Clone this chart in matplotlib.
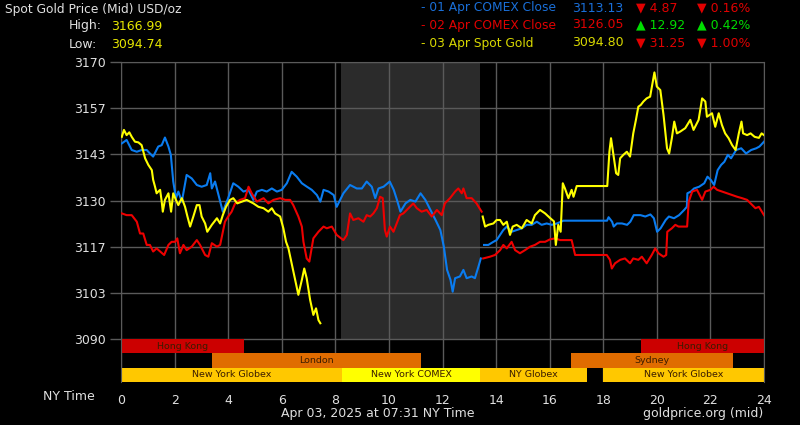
import numpy as np
import matplotlib
matplotlib.use("Agg")
import matplotlib.pyplot as plt

# --------------------------------------------------
# data (hours in NY time, USD/oz)
# NaN marks the break between sessions
# --------------------------------------------------
nan = np.nan

blue_hours = [0.03, 0.21, 0.4, 0.59, 0.77, 0.96, 1.08, 1.2, 1.39, 1.52, 1.64, 1.77, 1.86, 1.95,
              2.05, 2.14, 2.27, 2.45, 2.64, 2.83, 3.01, 3.2, 3.33, 3.39, 3.51, 3.64, 3.8, 4.0,
              4.19, 4.38, 4.57, 4.76, 4.94, 5.07, 5.26, 5.44, 5.63, 5.82, 6.0, 6.19, 6.37, 6.56,
              6.75, 6.94, 7.12, 7.31, 7.44, 7.56, 7.75, 7.94, 8.05, 8.3, 8.55, 8.8, 8.99, 9.17,
              9.36, 9.49, 9.61, 9.8, 10.03, 10.18, 10.3, 10.43, 10.62, 10.8, 10.99, 11.18, 11.36,
              11.55, 11.74, 11.92, 12.05, 12.17, 12.3, 12.38, 12.47, 12.65, 12.78, 12.9, 13.09,
              13.21, 13.34, 13.43, 13.49, 13.55, 13.71, 13.9, 14.02, 14.15, 14.27, 14.4, 14.58,
              14.77, 14.96, 15.14, 15.33, 15.52, 15.7, 15.89, 16.08, 16.27, 16.51, 16.76, 17.1,
              17.27, 18.14, 18.2, 18.33, 18.39, 18.51, 18.7, 18.89, 19.01, 19.14, 19.39, 19.57,
              19.76, 19.89, 20.01, 20.14, 20.33, 20.45, 20.64, 20.83, 21.02, 21.12, 21.14, 21.27,
              21.39, 21.58, 21.77, 21.89, 22.02, 22.14, 22.27, 22.4, 22.52, 22.65, 22.77, 22.96,
              23.15, 23.33, 23.52, 23.71, 23.83, 24.0]
blue_price = [3146.5, 3147.5, 3144.6, 3144.1, 3144.6, 3144.6, 3143.6, 3142.7, 3145.6, 3146.0,
              3148.2, 3145.6, 3143.2, 3135.5, 3130.7, 3132.6, 3129.7, 3137.4, 3136.4, 3134.5,
              3134.0, 3134.5, 3137.9, 3133.5, 3135.5, 3131.6, 3126.8, 3130.7, 3135.0, 3134.0,
              3132.6, 3133.1, 3130.2, 3132.6, 3133.1, 3132.6, 3133.5, 3132.6, 3133.1, 3135.0,
              3138.3, 3136.9, 3135.0, 3134.0, 3133.1, 3131.6, 3129.7, 3133.1, 3132.6, 3131.6,
              3128.2, 3132.1, 3134.5, 3133.5, 3133.5, 3135.5, 3134.0, 3130.7, 3133.5, 3134.0,
              3135.5, 3133.1, 3130.2, 3126.8, 3129.2, 3130.2, 3129.7, 3132.1, 3130.2, 3127.3,
              3124.4, 3121.5, 3116.7, 3110.0, 3107.1, 3103.7, 3107.6, 3108.1, 3110.0, 3107.6,
              3108.1, 3107.6, 3110.9, 3113.3, nan, 3117.2, 3117.2, 3118.1, 3118.6, 3120.1,
              3121.5, 3122.5, 3121.0, 3121.5, 3122.0, 3123.0, 3123.0, 3123.9, 3123.0, 3123.4,
              3123.0, 3123.4, 3124.2, 3124.2, 3124.2, 3124.2, 3124.2, 3125.2, 3123.9, 3122.5,
              3123.4, 3123.4, 3123.0, 3123.9, 3125.8, 3125.8, 3125.4, 3126.0, 3124.9, 3121.0,
              3122.0, 3124.4, 3125.4, 3124.9, 3125.8, 3127.3, 3128.2, 3132.1, 3132.6, 3133.5,
              3134.0, 3135.0, 3136.9, 3135.9, 3134.5, 3138.8, 3140.3, 3141.2, 3143.2, 3142.2,
              3144.6, 3145.1, 3143.6, 3144.6, 3145.1, 3145.6, 3147.0]

red_hours = [0.03, 0.21, 0.4, 0.59, 0.71, 0.83, 0.96, 1.08, 1.2, 1.33, 1.46, 1.61, 1.77, 1.89,
             2.02, 2.1, 2.2, 2.33, 2.45, 2.64, 2.83, 2.95, 3.14, 3.26, 3.39, 3.58, 3.7, 3.88, 4.0,
             4.13, 4.26, 4.44, 4.63, 4.76, 4.88, 5.07, 5.32, 5.5, 5.69, 5.94, 6.13, 6.31, 6.43,
             6.62, 6.75, 6.81, 6.93, 7.03, 7.18, 7.37, 7.56, 7.68, 7.87, 8.05, 8.3, 8.43, 8.55,
             8.67, 8.86, 9.05, 9.17, 9.3, 9.42, 9.55, 9.67, 9.77, 9.85, 9.92, 10.04, 10.17, 10.29,
             10.41, 10.54, 10.73, 10.91, 11.04, 11.22, 11.41, 11.6, 11.79, 11.97, 12.09, 12.28,
             12.47, 12.59, 12.72, 12.78, 12.9, 13.09, 13.27, 13.46, 13.49, 13.52, 13.77, 13.96,
             14.15, 14.27, 14.4, 14.58, 14.71, 14.89, 15.08, 15.27, 15.45, 15.64, 15.83, 16.01,
             16.2, 16.39, 16.51, 16.82, 16.95, 17.26, 18.13, 18.25, 18.32, 18.44, 18.63, 18.81,
             19.0, 19.12, 19.31, 19.44, 19.62, 19.81, 19.94, 20.06, 20.25, 20.35, 20.39, 20.56,
             20.69, 20.81, 21.13, 21.19, 21.32, 21.5, 21.69, 21.81, 22.0, 22.12, 22.25, 22.44,
             22.62, 22.81, 23.0, 23.18, 23.37, 23.5, 23.68, 23.81, 24.0]
red_price = [3126.3, 3125.8, 3125.8, 3123.9, 3120.5, 3120.5, 3117.2, 3117.2, 3115.3, 3116.2,
             3115.3, 3114.3, 3117.2, 3118.1, 3118.1, 3119.1, 3114.8, 3117.2, 3115.7, 3116.7,
             3118.6, 3117.2, 3114.3, 3113.8, 3117.7, 3116.7, 3117.2, 3123.9, 3125.4, 3126.8,
             3129.2, 3130.2, 3130.7, 3134.0, 3132.1, 3129.7, 3130.7, 3129.2, 3130.2, 3130.7,
             3130.2, 3130.2, 3128.7, 3125.4, 3122.5, 3118.1, 3113.3, 3112.4, 3119.1, 3121.0,
             3122.5, 3122.0, 3122.5, 3120.1, 3118.6, 3120.1, 3126.3, 3124.4, 3124.9, 3123.9,
             3125.8, 3125.4, 3126.3, 3127.8, 3131.1, 3130.7, 3121.5, 3119.6, 3122.5, 3121.0,
             3123.4, 3125.8, 3126.3, 3127.8, 3129.2, 3127.8, 3126.8, 3127.3, 3125.4, 3127.3,
             3125.8, 3129.2, 3130.7, 3132.6, 3133.5, 3132.1, 3133.5, 3130.7, 3130.7, 3129.2,
             3126.8, nan, 3113.3, 3113.8, 3114.3, 3115.7, 3117.2, 3116.2, 3118.1, 3115.7,
             3114.8, 3115.7, 3116.7, 3117.2, 3118.1, 3118.1, 3118.8, 3119.1, 3118.6, 3118.6,
             3118.6, 3114.3, 3114.3, 3114.3, 3112.9, 3110.4, 3111.9, 3112.9, 3113.3, 3111.9,
             3113.3, 3112.9, 3113.8, 3111.9, 3114.3, 3116.2, 3114.8, 3113.8, 3114.3, 3121.0,
             3122.0, 3123.0, 3122.5, 3122.5, 3129.7, 3132.6, 3133.1, 3130.2, 3132.6, 3133.1,
             3134.0, 3133.1, 3132.6, 3132.1, 3131.6, 3131.1, 3130.7, 3130.2, 3129.2, 3127.8,
             3128.2, 3125.8]

yellow_hours = [0.03, 0.11, 0.21, 0.31, 0.4, 0.52, 0.65, 0.77, 0.9, 1.02, 1.15, 1.2, 1.27, 1.33,
                1.39, 1.46, 1.52, 1.56, 1.64, 1.77, 1.87, 1.95, 2.05, 2.14, 2.27, 2.39, 2.48,
                2.58, 2.7, 2.83, 2.93, 3.01, 3.14, 3.22, 3.39, 3.58, 3.7, 3.8, 3.92, 4.07, 4.19,
                4.34, 4.51, 4.69, 4.94, 5.13, 5.32, 5.5, 5.63, 5.75, 5.94, 6.06, 6.16, 6.25, 6.37,
                6.5, 6.62, 6.75, 6.84, 6.93, 7.06, 7.18, 7.28, 7.37, 7.44, 10.0, 13.5, 13.59,
                13.71, 13.9, 14.02, 14.15, 14.27, 14.4, 14.52, 14.62, 14.77, 14.96, 15.14, 15.33,
                15.45, 15.64, 15.83, 16.01, 16.16, 16.23, 16.32, 16.41, 16.49, 16.57, 16.7, 16.82,
                16.89, 17.01, 18.15, 18.23, 18.29, 18.38, 18.48, 18.56, 18.63, 18.75, 18.88, 19.0,
                19.12, 19.22, 19.31, 19.4, 19.5, 19.62, 19.75, 19.85, 19.91, 20.0, 20.13, 20.25,
                20.38, 20.46, 20.56, 20.65, 20.75, 20.87, 21.06, 21.25, 21.37, 21.56, 21.69,
                21.81, 21.87, 22.06, 22.18, 22.31, 22.43, 22.55, 22.68, 22.81, 22.94, 23.06,
                23.16, 23.22, 23.37, 23.5, 23.65, 23.81, 23.91, 24.0]
yellow_price = [3148.4, 3150.4, 3148.9, 3149.7, 3148.4, 3147.0, 3146.8, 3146.0, 3142.2, 3140.3,
                3138.8, 3136.0, 3134.0, 3132.1, 3132.6, 3133.1, 3129.7, 3126.8, 3130.2, 3132.1,
                3126.8, 3132.1, 3130.2, 3128.7, 3130.7, 3128.2, 3125.4, 3122.5, 3125.4, 3128.7,
                3128.7, 3125.4, 3123.4, 3121.0, 3123.0, 3124.9, 3123.4, 3125.8, 3128.2, 3130.2,
                3130.7, 3129.2, 3129.7, 3130.2, 3129.2, 3128.2, 3127.8, 3126.8, 3127.8, 3126.3,
                3125.4, 3122.0, 3118.1, 3116.2, 3111.9, 3107.1, 3102.8, 3107.1, 3110.4, 3107.6,
                3101.3, 3097.0, 3098.9, 3095.5, 3094.6, nan, 3125.4, 3122.5, 3123.0, 3123.4,
                3124.4, 3124.4, 3123.0, 3123.9, 3120.1, 3122.5, 3123.0, 3122.0, 3124.4, 3123.4,
                3125.8, 3127.3, 3126.3, 3125.0, 3124.0, 3117.2, 3123.0, 3121.0, 3135.0, 3133.5,
                3130.7, 3133.1, 3131.1, 3134.2, 3134.2, 3144.1, 3148.0, 3143.2, 3137.9, 3137.4,
                3142.2, 3143.2, 3144.1, 3142.7, 3149.4, 3153.3, 3157.1, 3157.6, 3158.6, 3159.5,
                3160.0, 3164.3, 3167.0, 3162.9, 3161.9, 3154.7, 3145.1, 3143.6, 3148.0, 3152.8,
                3149.4, 3149.9, 3150.9, 3153.3, 3150.4, 3153.3, 3159.5, 3158.6, 3154.2, 3155.2,
                3151.3, 3155.2, 3151.8, 3149.4, 3148.0, 3146.0, 3144.6, 3149.4, 3152.8, 3149.4,
                3148.9, 3149.4, 3148.4, 3148.1, 3149.4, 3148.9]

# trading sessions (row 0 = top band)
session_names = ["Hong Kong", "Hong Kong", "London", "Sydney",
                 "New York Globex", "New York COMEX", "NY Globex", "New York Globex"]
session_start = [0, 19.4, 3.4, 16.8, 0, 8.25, 13.4, 18]
session_end = [4.6, 24, 11.2, 22.85, 8.25, 13.4, 17.4, 24]
session_row = [0, 0, 1, 1, 2, 2, 2, 2]
comex_open, comex_close = 8.2, 13.4

ytick_labels = ["3090", "3103", "3117", "3130", "3143", "3157", "3170"]
xtick_labels = [str(h) for h in range(0, 25, 2)]

legend_labels = ["- 01 Apr COMEX Close", "- 02 Apr COMEX Close", "- 03 Apr Spot Gold"]
legend_values = ["3113.13", "3126.05", "3094.80"]
legend_changes = ["▼ 4.87", "▲ 12.92", "▼ 31.25"]
legend_pcts = ["▼ 0.16%", "▲ 0.42%", "▼ 1.00%"]

day_high, day_low = "3166.99", "3094.74"

# --------------------------------------------------
# figure
# --------------------------------------------------
W, H = 800, 425
fig = plt.figure(figsize=(W / 100, H / 100), dpi=100, facecolor="black")

y_top, y_bottom = 3170.0, 3090.0
row_h = 4.12
y_min = y_bottom - 3 * row_h

ax = fig.add_axes([121 / W, 1 - 382 / H, (764 - 121) / W, (382 - 62) / H])
ax.set_facecolor("black")
ax.set_xlim(0, 24)
ax.set_ylim(y_min, y_top)

grid_col = "#5a5a5a"
ax.set_axisbelow(True)
ax.grid(True, color=grid_col, linewidth=1.0)
for side in ["top", "right", "left"]:
    ax.spines[side].set_color(grid_col)
ax.spines["bottom"].set_visible(False)

# COMEX hours shading
frac = (y_bottom - y_min) / (y_top - y_min)
ax.axvspan(comex_open, comex_close, ymin=frac, ymax=1, color="#2b2b2b", zorder=0.2, lw=0)

# session bars
session_colors = {"Hong Kong": "#cc0000", "London": "#e06c00", "Sydney": "#e06c00",
                  "New York Globex": "#ffc800", "NY Globex": "#ffc800",
                  "New York COMEX": "#ffff00"}
for name, s, e, r in zip(session_names, session_start, session_end, session_row):
    y0 = y_bottom - (r + 1) * row_h
    ax.barh(y0 + row_h / 2, e - s, left=s, height=row_h, color=session_colors[name],
            edgecolor="none", zorder=2)
    ax.text((s + e) / 2, y0 + row_h / 2, name, ha="center", va="center",
            fontsize=6.8, color="#3a1c00", zorder=3)

# price lines
ax.plot(blue_hours, blue_price, color="#0a7cf0", lw=1.5, zorder=4)
ax.plot(red_hours, red_price, color="#ee0000", lw=1.5, zorder=4)
ax.plot(yellow_hours, yellow_price, color="#ffff00", lw=1.5, zorder=5)

# ticks
ax.set_yticks(np.linspace(y_bottom, y_top, len(ytick_labels)))
ax.set_yticklabels(ytick_labels)
ax.set_xticks(range(0, 25, 2))
ax.set_xticklabels(xtick_labels)
ax.tick_params(axis="y", colors=grid_col, labelcolor="#e0e0e0", length=8, width=1,
               labelsize=9, pad=3)
ax.tick_params(axis="x", length=0, labelcolor="#e0e0e0", labelsize=9, pad=9)

# --------------------------------------------------
# header and footer text
# --------------------------------------------------
def put(x, y, s, color="#e0e0e0", ha="left", size=9):
    fig.text(x / W, 1 - y / H, s, color=color, ha=ha, va="center", fontsize=size)

put(5, 9, "Spot Gold Price (Mid) USD/oz", size=8.8)
put(69, 26, "High:")
put(111, 26, day_high, color="#e6e600")
put(69, 44, "Low:")
put(111, 44, day_low, color="#e6e600")

label_colors = ["#1a6fd8", "#e00000", "#d8d800"]
row_y = [8, 25, 43]
for i in range(3):
    put(421, row_y[i], legend_labels[i], color=label_colors[i], size=8.8)
    put(572, row_y[i], legend_values[i], color=label_colors[i])
    chg_col = "#00dd00" if legend_changes[i].startswith("▲") else "#e00000"
    put(636, row_y[i], legend_changes[i], color=chg_col)
    put(697, row_y[i], legend_pcts[i], color=chg_col)

put(43, 397, "NY Time")
put(378, 413, "Apr 03, 2025 at 07:31 NY Time", ha="center")
put(763, 413, "goldprice.org (mid)", ha="right")

fig.savefig("out.png", dpi=100, facecolor="black")
